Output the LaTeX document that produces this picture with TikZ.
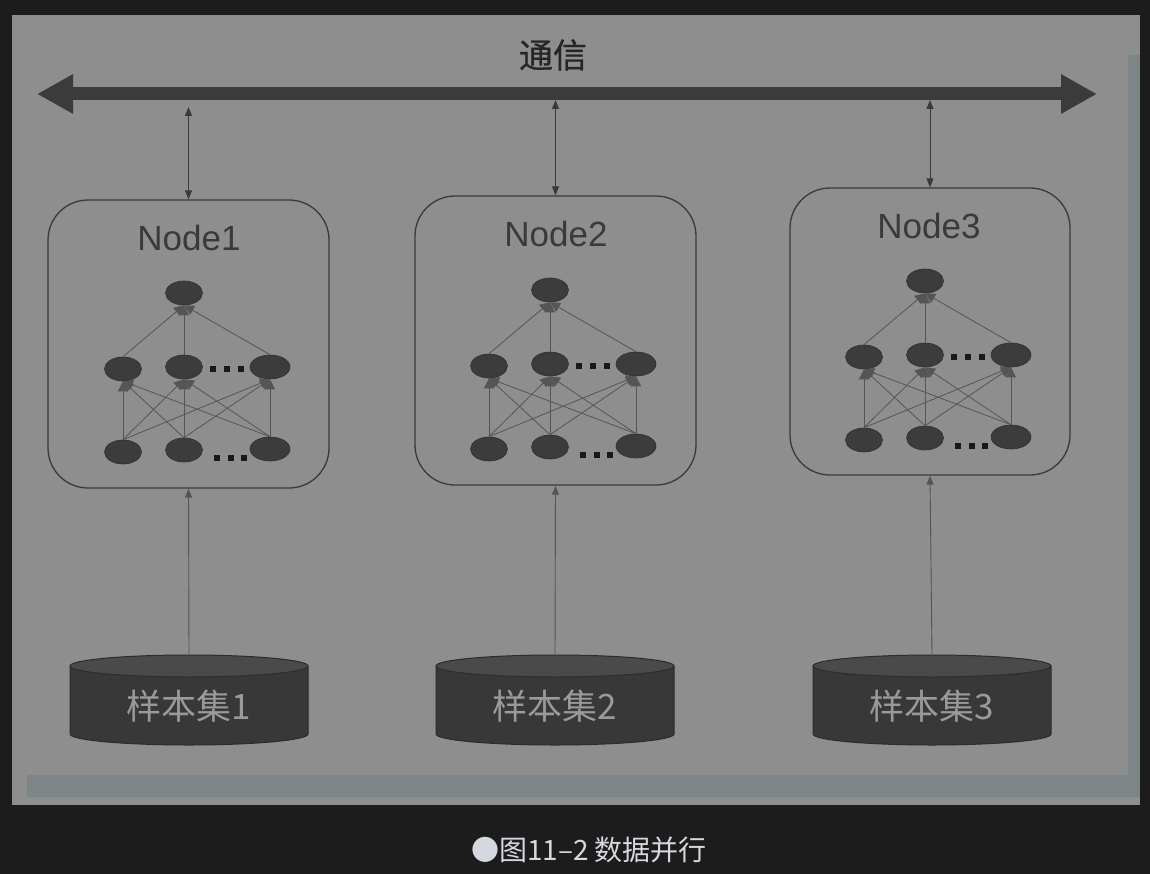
\documentclass[tikz,border=0pt]{standalone}
\usepackage{fontspec}
\setmainfont{Liberation Sans}
\newfontfamily\cjk{Noto Sans CJK SC}
\newfontfamily\cjkb[FakeBold=0.8]{Noto Sans CJK SC}
\usetikzlibrary{arrows.meta,shapes.geometric,calc}
\definecolor{bgdark}{HTML}{1C1C1C}
\definecolor{panel}{HTML}{8E8E8E}
\definecolor{strip}{HTML}{7E8589}
\definecolor{ink}{HTML}{3A3A3A}
\definecolor{busc}{HTML}{3B3B3B}
\definecolor{neur}{HTML}{3C3C3C}
\definecolor{edgec}{HTML}{555555}
\definecolor{cylbody}{HTML}{383838}
\definecolor{cyltop}{HTML}{4A4A4A}
\definecolor{cylline}{HTML}{2C2C2C}
\definecolor{cyltext}{HTML}{9A9A9A}
\definecolor{capc}{HTML}{D5D8DE}
\newcommand\net[3]{%
  \node[neuron] (#1t) at (#2,#3) {};
  \node[neuron] (#1a) at (#2-61,#3+76) {};
  \node[neuron] (#1b) at (#2,#3+74) {};
  \node[neuron,minimum width=40pt] (#1c) at (#2+86,#3+74) {};
  \node[neuron] (#1d) at (#2-61,#3+159) {};
  \node[neuron] (#1e) at (#2,#3+157) {};
  \node[neuron,minimum width=40pt] (#1f) at (#2+86,#3+156) {};
  \foreach \s in {d,e,f}{\foreach \t in {a,b,c}{\draw[nnedge] (#1\s.north) -- (#1\t.south);}}
  \foreach \t in {a,b,c}{\draw[nnedge] (#1\t.north) -- (#1t.south);}
  \foreach \k in {29,43,57}{\fill[black!90] (#2+\k-3,#3+73) rectangle ++(6,6);}
  \foreach \k in {33,47,60}{\fill[black!90] (#2+\k-3,#3+162) rectangle ++(6,6);}
}
\newcommand\datacyl[3]{%
  \fill[cylbody] (#2-119,666) -- (#2-119,734) arc[start angle=180,end angle=0,x radius=119,y radius=11] -- (#2+119,666) -- cycle;
  \draw[cylline,line width=1pt] (#2-119,666) -- (#2-119,734) arc[start angle=180,end angle=0,x radius=119,y radius=11] -- (#2+119,666);
  \filldraw[fill=cyltop,draw=cylline,line width=1pt] (#2,666) ellipse[x radius=119,y radius=11];
  \node[datanode] (#1) at (#2,706) {#3};
}
\begin{document}
\begin{tikzpicture}[x=1pt,y=-1pt,
  neuron/.style={ellipse,fill=neur,draw=neur!80!black,line width=0.6pt,minimum width=37pt,minimum height=24pt,inner sep=0pt},
  nnedge/.style={draw=edgec,line width=0.8pt,-{Triangle[length=10pt,width=10pt]}},
  nodebox/.style={draw=ink,line width=1.3pt,rounded corners=40pt,inner sep=0pt},
  nodelabel/.style={font=\fontsize{35}{35}\selectfont,text=ink},
  link/.style={draw=ink,line width=0.9pt,{Triangle[length=9pt,width=7pt]}-{Triangle[length=9pt,width=7pt]}},
  feed/.style={draw=edgec,line width=0.9pt,-{Triangle[length=9pt,width=7pt]}},
  bus/.style={draw=busc,line width=13pt,{Triangle[length=36pt,width=37pt]}-{Triangle[length=36pt,width=37pt]}},
  datanode/.style={minimum width=238pt,minimum height=102pt,inner sep=0pt,font=\cjk\fontsize{35}{35}\selectfont,text=cyltext}
]
\fill[bgdark] (0,0) rectangle (1150,874);
\useasboundingbox (0,0) rectangle (1150,874);
\fill[panel] (12,15) rectangle (1140,805);
\fill[strip] (1128,55) rectangle (1140,775);
\fill[strip] (27,775) rectangle (1140,797);
% bus
\coordinate (busL) at (37,94);
\coordinate (busR) at (1097,94);
\draw[bus] (busL) -- (busR);
\node[font=\cjkb\fontsize{34}{34}\selectfont,text=black!85] (comm) at (553,55) {通信};
% node boxes
\node[nodebox,minimum width=281pt,minimum height=288pt] (box1) at (188.5,344) {};
\node[nodebox,minimum width=281pt,minimum height=289pt] (box2) at (555.5,340.5) {};
\node[nodebox,minimum width=280pt,minimum height=287pt] (box3) at (930,331.5) {};
\node[nodelabel] (lab1) at (189,238) {Node1};
\node[nodelabel] (lab2) at (556,234) {Node2};
\node[nodelabel] (lab3) at (929,226) {Node3};
% networks
\net{n1}{184}{293}
\net{n2}{550}{290}
\net{n3}{925}{281}
% comm links
\coordinate (c1) at (188.5,107);
\coordinate (c2) at (555.5,100);
\coordinate (c3) at (930,100);
\draw[link] (c1) -- (box1.north);
\draw[link] (c2) -- (box2.north);
\draw[link] (c3) -- (box3.north);
% data
\datacyl{d1}{189}{样本集1}
\datacyl{d2}{555}{样本集2}
\datacyl{d3}{932}{样本集3}
\draw[feed] (d1.north) -- (box1.south);
\draw[feed] (d2.north) -- (box2.south);
\draw[feed] (d3.north) -- (box3.south);
% caption
\node[font=\cjk\fontsize{28}{28}\selectfont,text=capc] (cap) at (589,850) {●图11–2 数据并行};
\end{tikzpicture}
\end{document}
